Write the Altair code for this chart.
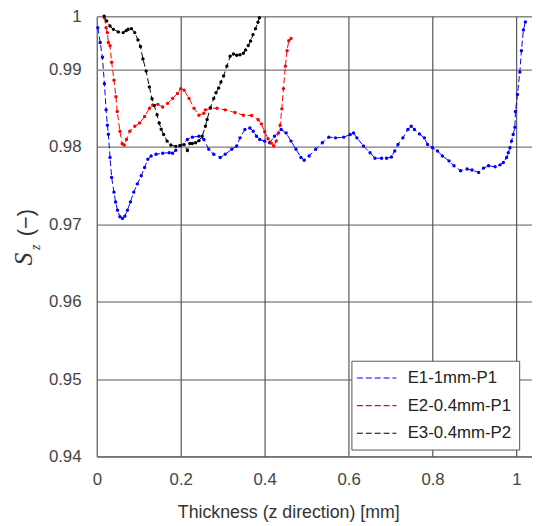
import altair as alt
import pandas as pd

# E1-1mm-P1 (blue)
e1_x = [0.0024, 0.0080, 0.0134, 0.0181, 0.0221, 0.0252, 0.0275, 0.0315, 0.0353, 0.0409,
        0.0447, 0.0494, 0.0551, 0.0612, 0.0668, 0.0729, 0.0800, 0.0880, 0.0965, 0.1059,
        0.1139, 0.1216, 0.1294, 0.1412, 0.1569, 0.1727, 0.1805, 0.1882, 0.2000, 0.2158,
        0.2275, 0.2433, 0.2551, 0.2668, 0.2786, 0.2941, 0.3059, 0.3216, 0.3334, 0.3412,
        0.3529, 0.3647, 0.3727, 0.3805, 0.3882, 0.4000, 0.4118, 0.4235, 0.4393, 0.4511,
        0.4628, 0.4746, 0.4864, 0.4941, 0.5059, 0.5216, 0.5374, 0.5529, 0.5687, 0.5882,
        0.6040, 0.6118, 0.6198, 0.6353, 0.6511, 0.6628, 0.6786, 0.6904, 0.7021, 0.7099,
        0.7176, 0.7294, 0.7412, 0.7492, 0.7569, 0.7687, 0.7805, 0.7882, 0.8000, 0.8118,
        0.8235, 0.8393, 0.8511, 0.8668, 0.8824, 0.8941, 0.9099, 0.9216, 0.9334, 0.9492,
        0.9609, 0.9687, 0.9765, 0.9805, 0.9845, 0.9882, 0.9922, 0.9962, 0.9976, 1.0024,
        1.0080, 1.0118, 1.0165, 1.0212]
e1_y = [0.99543, 0.99352, 0.99161, 0.98820, 0.98481, 0.98281, 0.98166, 0.97864, 0.97608, 0.97417,
        0.97290, 0.97184, 0.97098, 0.97078, 0.97107, 0.97184, 0.97290, 0.97417, 0.97524, 0.97630,
        0.97736, 0.97843, 0.97885, 0.97907, 0.97920, 0.97927, 0.97920, 0.97958, 0.98019, 0.98098,
        0.98128, 0.98140, 0.98098, 0.97971, 0.97907, 0.97864, 0.97907, 0.97971, 0.98013, 0.98119,
        0.98226, 0.98246, 0.98204, 0.98140, 0.98098, 0.98077, 0.98055, 0.98140, 0.98226, 0.98182,
        0.98077, 0.97971, 0.97864, 0.97830, 0.97885, 0.97971, 0.98055, 0.98128, 0.98119, 0.98128,
        0.98162, 0.98182, 0.98119, 0.98013, 0.97927, 0.97856, 0.97856, 0.97856, 0.97872, 0.97949,
        0.98034, 0.98119, 0.98226, 0.98268, 0.98226, 0.98170, 0.98119, 0.98034, 0.97991, 0.97949,
        0.97885, 0.97821, 0.97758, 0.97694, 0.97716, 0.97703, 0.97672, 0.97728, 0.97758, 0.97745,
        0.97770, 0.97800, 0.97864, 0.97927, 0.97991, 0.98077, 0.98162, 0.98255, 0.98459, 0.98680,
        0.98969, 0.99246, 0.99514, 0.99616]

# E2-0.4mm-P1 (red)
e2_x = [0.0181, 0.0221, 0.0252, 0.0275, 0.0315, 0.0353, 0.0409, 0.0456, 0.0487, 0.0551,
        0.0605, 0.0652, 0.0706, 0.0786, 0.0904, 0.1021, 0.1139, 0.1256, 0.1334, 0.1452,
        0.1569, 0.1687, 0.1805, 0.1922, 0.2000, 0.2080, 0.2198, 0.2315, 0.2433, 0.2551,
        0.2588, 0.2706, 0.2864, 0.3059, 0.3294, 0.3492, 0.3687, 0.3845, 0.3922, 0.4000,
        0.4080, 0.4158, 0.4216, 0.4275, 0.4329, 0.4369, 0.4409, 0.4447, 0.4494, 0.4534,
        0.4574, 0.4628]
e2_y = [0.99671, 0.99543, 0.99480, 0.99352, 0.99310, 0.99097, 0.98864, 0.98651, 0.98459, 0.98204,
        0.98042, 0.98026, 0.98098, 0.98204, 0.98268, 0.98310, 0.98395, 0.98501, 0.98545, 0.98552,
        0.98517, 0.98565, 0.98629, 0.98693, 0.98756, 0.98736, 0.98629, 0.98501, 0.98412, 0.98438,
        0.98481, 0.98501, 0.98501, 0.98481, 0.98446, 0.98412, 0.98408, 0.98353, 0.98300, 0.98198,
        0.98108, 0.98051, 0.98013, 0.98077, 0.98182, 0.98281, 0.98494, 0.98756, 0.99046, 0.99246,
        0.99374, 0.99403]

# E3-0.4mm-P2 (black)
e3_x = [0.0174, 0.0235, 0.0315, 0.0393, 0.0511, 0.0628, 0.0699, 0.0746, 0.0824, 0.0904,
        0.0981, 0.1040, 0.1099, 0.1176, 0.1252, 0.1315, 0.1369, 0.1435, 0.1487, 0.1534,
        0.1593, 0.1675, 0.1765, 0.1882, 0.1976, 0.2080, 0.2158, 0.2216, 0.2275, 0.2353,
        0.2433, 0.2511, 0.2588, 0.2628, 0.2706, 0.2786, 0.2840, 0.2904, 0.2958, 0.3021,
        0.3099, 0.3176, 0.3256, 0.3334, 0.3412, 0.3492, 0.3546, 0.3609, 0.3664, 0.3722,
        0.3781, 0.3840, 0.3875]
e3_y = [0.99693, 0.99629, 0.99565, 0.99522, 0.99489, 0.99480, 0.99505, 0.99524, 0.99531, 0.99480,
        0.99384, 0.99301, 0.99139, 0.98982, 0.98778, 0.98625, 0.98536, 0.98417, 0.98310, 0.98230,
        0.98162, 0.98077, 0.98026, 0.98009, 0.98019, 0.98032, 0.97955, 0.98045, 0.98045, 0.98055,
        0.98083, 0.98140, 0.98268, 0.98357, 0.98510, 0.98629, 0.98702, 0.98765, 0.98842, 0.98918,
        0.99046, 0.99173, 0.99203, 0.99186, 0.99193, 0.99212, 0.99256, 0.99314, 0.99371, 0.99454,
        0.99531, 0.99614, 0.99671]

series_names = ["E1-1mm-P1", "E2-0.4mm-P1", "E3-0.4mm-P2"]
series_colors = ["#0000ff", "#ff0000", "#000000"]
x_ticks = [0, 0.2, 0.4, 0.6, 0.8, 1.0]
y_ticks = [0.94, 0.95, 0.96, 0.97, 0.98, 0.99, 0.9969]

rows = []
for name, xs, ys in zip(series_names, [e1_x, e2_x, e3_x], [e1_y, e2_y, e3_y]):
    for i, (xv, yv) in enumerate(zip(xs, ys)):
        rows.append({"series": name, "x": xv, "y": yv, "order": i})
df = pd.DataFrame(rows)

nbsp = "\u00a0" * 8
color = alt.Color("series:N",
                  scale=alt.Scale(domain=series_names, range=series_colors),
                  legend=alt.Legend(title=None, orient="none", legendX=258, legendY=349,
                                    symbolType="M-1.4,0H3.3", symbolSize=289, symbolStrokeWidth=1.2,
                                    symbolDash=[6, 3], labelFontSize=17, labelFont="Liberation Sans",
                                    labelColor="#222", labelOffset=30, rowPadding=10,
                                    labelExpr="datum.label + '" + nbsp + "'",
                                    padding=8, strokeColor="#555", fillColor="white"))

xenc = alt.X("x:Q", scale=alt.Scale(domain=[0, 1.037], nice=False, zero=False),
             axis=alt.Axis(values=x_ticks, format="~g", title="Thickness (z direction) [mm]",
                           titleFontSize=18, titleFont="Liberation Sans", titleFontWeight="normal",
                           titleColor="#333", titleX=194, titlePadding=17,
                           labelFontSize=17, labelFont="Liberation Sans", labelColor="#444",
                           labelPadding=15, ticks=False, labelFlush=False,
                           grid=True, gridColor="#333", gridWidth=1, domainColor="#555"))
yenc = alt.Y("y:Q", scale=alt.Scale(domain=[0.94, 0.9969], nice=False, zero=False),
             axis=alt.Axis(values=y_ticks,
                           labelExpr="datum.value > 0.995 ? '1' : format(datum.value, '.2f')",
                           title=None, labelFontSize=17, labelFont="Liberation Sans",
                           labelColor="#444", labelPadding=16, ticks=False, labelFlush=False,
                           grid=True, gridColor="#555", gridWidth=1, domainColor="#777"))

base = alt.Chart(df)
lines = base.mark_line(strokeWidth=1, strokeDash=[6, 3]).encode(
    x=xenc, y=yenc, color=color, order="order:Q", detail="series:N")
points = base.mark_circle(size=12, opacity=1).encode(
    x="x:Q", y="y:Q", color=alt.Color("series:N", legend=None))

one = alt.Data(values=[{"a": 1}])
t_s = alt.Chart(one).mark_text(text="S", font="Liberation Serif", fontStyle="italic", fontSize=26,
                               angle=270, color="#333", align="center", baseline="middle").encode(
    x=alt.value(-74), y=alt.value(246))
t_z = alt.Chart(one).mark_text(text="z", font="Liberation Serif", fontStyle="italic", fontSize=14,
                               angle=270, color="#333", align="center", baseline="middle").encode(
    x=alt.value(-62), y=alt.value(234))
t_u = alt.Chart(one).mark_text(text="(\u2212)", font="Liberation Sans", fontSize=22,
                               angle=270, color="#333", align="center", baseline="middle").encode(
    x=alt.value(-72), y=alt.value(209))

chart = alt.layer(lines, points, t_s, t_z, t_u).properties(
    width=441, height=446,
    autosize=alt.AutoSizeParams(type="none"),
    padding={"left": 90, "top": 5, "right": 0, "bottom": 66},
).configure_view(stroke="#555", strokeWidth=1.5).configure(background="white")

chart.save("out.html", embed_options={"renderer": "svg", "actions": False})
